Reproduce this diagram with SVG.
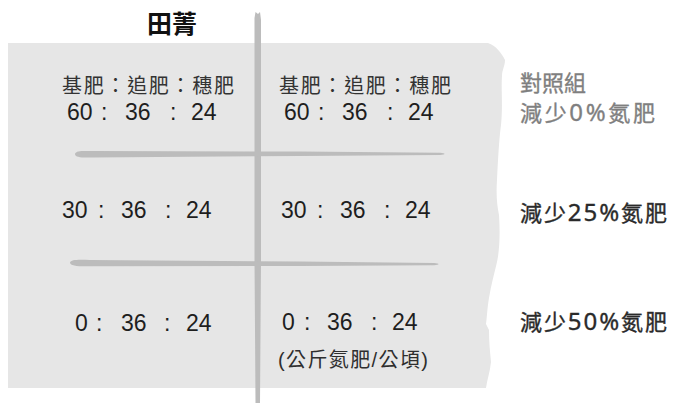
<svg xmlns="http://www.w3.org/2000/svg" width="673" height="406" viewBox="0 0 673 406">
<style>
.num{font-family:"Liberation Sans","Noto Sans CJK TC",sans-serif;font-size:23px;fill:#1e1e1e}
.hdr{font-family:"Noto Sans CJK TC","Liberation Sans",sans-serif;font-size:20px;fill:#333333}
.unit{font-family:"Liberation Sans","Noto Sans CJK TC",sans-serif;font-size:20px;fill:#2e2e2e}
.lab{font-family:"Noto Sans CJK TC","Noto Sans",sans-serif;font-size:22px;font-weight:normal;stroke-width:0.35}
.lab .d{font-family:"Noto Sans","Noto Sans CJK TC",sans-serif;font-size:24px}
.grey{fill:#7f7f7f;stroke:#7f7f7f}
.dark{fill:#2a2a2a;stroke:#2a2a2a}
.stroke{fill:#bcbcbc}
</style>
<rect width="673" height="406" fill="#ffffff"/>
<g id="panel">
<path d="M8,43 L488,43 C496,46 501,52 505,60 C505,66 502,70 502,76 C501,90 503,105 501,125 C499,140 498,160 497,180 C496,195 497,205 499,215 C500,230 500,248 497,262 C494,275 491,285 489,298 C487,310 487,318 486,324 L489,330 C489,342 490,352 491,362 C490,372 487,380 486,388 L8,388 Z" fill="#e6e6e6"/>
</g>
<g id="dividers">
<path class="stroke" d="M254.5,18 L255.5,12 L258,14 L260,12 L261,20 L261,120 L261,260 L260.5,330 L260,403 L255.5,403 L255,330 L254.5,260 L254.5,120 Z"/>
<path class="stroke" d="M75,154 C76,150.5 82,151 92,151 L300,151.5 L440,152.8 C446,153.3 446,154.6 440,155 L300,156 L92,157.5 C82,157.8 75,157.5 75,154 Z"/>
<path class="stroke" d="M70,262.5 C71,259.5 78,259.5 90,260 L300,261.5 L434,263 C440,263.5 440,264.8 434,265.2 L300,266 L90,266.3 C78,266.5 70,266 70,262.5 Z"/>
</g>
<g id="title">
<text x="172" y="33" text-anchor="middle" style="font-family:'Noto Sans CJK TC',sans-serif;font-size:25px;font-weight:bold;fill:#111">田菁</text>
</g>
<g id="row1-left">
<text class="hdr" x="62" y="93" textLength="172" lengthAdjust="spacing">基肥：追肥：穗肥</text>
<text class="num" y="120"><tspan x="67">60</tspan><tspan x="101">:</tspan><tspan x="125">36</tspan><tspan x="170">:</tspan><tspan x="191">24</tspan></text>
</g>
<g id="row1-right">
<text class="hdr" x="279" y="93" textLength="172" lengthAdjust="spacing">基肥：追肥：穗肥</text>
<text class="num" y="120"><tspan x="284">60</tspan><tspan x="318">:</tspan><tspan x="342">36</tspan><tspan x="387">:</tspan><tspan x="408">24</tspan></text>
</g>
<g id="row2-left">
<text class="num" y="218"><tspan x="62">30</tspan><tspan x="98">:</tspan><tspan x="121">36</tspan><tspan x="165">:</tspan><tspan x="186">24</tspan></text>
</g>
<g id="row2-right">
<text class="num" y="218"><tspan x="281">30</tspan><tspan x="317">:</tspan><tspan x="340">36</tspan><tspan x="384">:</tspan><tspan x="405">24</tspan></text>
</g>
<g id="row3-left">
<text class="num" y="331"><tspan x="75">0</tspan><tspan x="96">:</tspan><tspan x="121">36</tspan><tspan x="164">:</tspan><tspan x="186">24</tspan></text>
</g>
<g id="row3-right">
<text class="num" y="330"><tspan x="282">0</tspan><tspan x="304">:</tspan><tspan x="327">36</tspan><tspan x="371">:</tspan><tspan x="392">24</tspan></text>
<text class="unit" x="278" y="367" textLength="150" lengthAdjust="spacing">(公斤氮肥/公頃)</text>
</g>
<g id="label-0">
<text class="lab grey" x="520" y="91">對照組</text>
<text class="lab grey" x="520" y="121" textLength="135" lengthAdjust="spacing">減少<tspan class="d">0%</tspan>氮肥</text>
</g>
<g id="label-25">
<text class="lab dark" x="520" y="221" textLength="147" lengthAdjust="spacing">減少<tspan class="d">25%</tspan>氮肥</text>
</g>
<g id="label-50">
<text class="lab dark" x="520" y="330" textLength="147" lengthAdjust="spacing">減少<tspan class="d">50%</tspan>氮肥</text>
</g>
</svg>
